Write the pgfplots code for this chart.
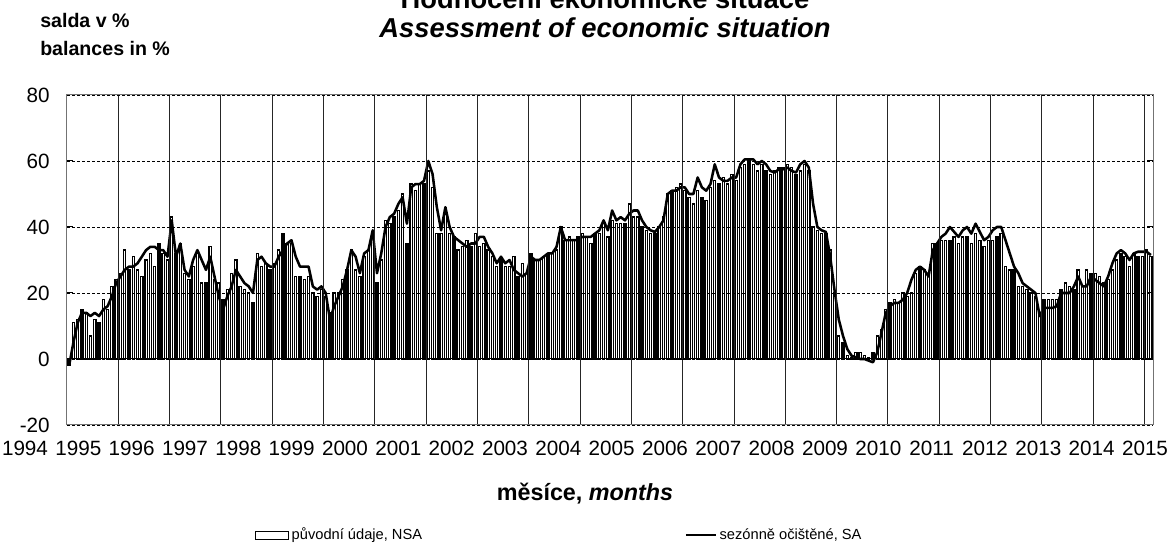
\documentclass[border=0pt]{standalone}
\usepackage{fontspec}
\setmainfont{Liberation Sans}
\usepackage{pgfplots}
\pgfplotsset{compat=1.18}
\usepackage{pgfplotstable}

\newcommand\tickfont{\fontsize{15.5}{18}\selectfont}
\newcommand\titlefont{\fontsize{20.5}{24}\selectfont\bfseries}

\pgfplotstableread{
i nsa sa
0 -2 -2
1 11 5
2 12 11
3 15 14
4 14 14
5 7 13
6 12 14
7 11 13
8 18 15
9 15 16
10 22 19
11 24 23
12 26 25
13 33 27
14 27 28
15 31 28
16 27 29
17 25 31
18 30 33
19 32 34
20 28 34
21 35 33
22 32 33
23 30 31
24 43 42
25 32 31
26 35 35
27 26 27
28 24 25
29 28 30
30 32 33
31 23 30
32 23 27
33 34 31
34 24 25
35 23 19
36 18 15
37 21 19
38 26 22
39 30 27
40 22 25
41 21 23
42 20 22
43 17 20
44 32 30
45 28 31
46 29 29
47 27 28
48 29 28
49 33 31
50 38 33
51 35 35
52 35 36
53 25 31
54 25 28
55 24 28
56 25 28
57 20 22
58 19 21
59 21 22
60 19 20
61 14 12
62 20 16
63 20 19
64 24 22
65 27 27
66 33 33
67 27 31
68 25 26
69 31 32
70 33 33
71 38 39
72 23 26
73 30 32
74 42 40
75 41 43
76 43 44
77 45 47
78 50 49
79 35 41
80 53 52
81 51 53
82 53 53
83 53 54
84 57 60
85 52 56
86 38 46
87 38 39
88 46 46
89 38 40
90 37 37
91 33 36
92 34 35
93 36 34
94 34 35
95 38 35
96 34 37
97 35 37
98 33 34
99 31 32
100 28 29
101 30 31
102 28 29
103 28 30
104 31 27
105 25 26
106 29 25
107 26 26
108 32 31
109 30 30
110 30 30
111 31 31
112 32 32
113 32 32
114 33 34
115 40 40
116 36 36
117 37 36
118 36 36
119 37 36
120 38 37
121 37 37
122 35 37
123 38 38
124 38 39
125 41 42
126 37 39
127 42 45
128 41 42
129 41 43
130 41 42
131 47 44
132 43 45
133 43 45
134 40 42
135 39 40
136 38 39
137 38 38.5
138 40 40
139 43 42
140 50 50
141 51 51
142 52 51
143 53 52
144 51 52
145 49 50
146 47 50
147 51 55
148 49 52
149 48 51
150 52 53
151 54 59
152 53 55
153 55 54
154 53 54
155 56 55
156 54 55
157 58 59
158 59 60.5
159 60 60.5
160 59 60.5
161 57 59
162 59 60
163 57 59
164 56 57
165 57 56.5
166 58 57.5
167 58 57.5
168 59 58
169 58 57
170 56 56.5
171 57 59
172 59 60
173 57 58
174 40 47
175 39 40
176 38 39
177 38 38.5
178 33 31
179 20 21
180 7 12
181 5 7
182 1 3
183 0.5 1
184 2 0.5
185 2 0
186 1 0
187 0.5 -0.5
188 2 -1
189 7 2
190 9 8
191 15 14
192 17 16
193 18 17
194 17 17
195 20 18
196 19 20
197 20 24
198 26 27
199 28 28
200 27 27
201 25 25
202 35 33
203 35 35
204 36 37
205 36 38
206 36 40
207 37 38.5
208 35 37
209 37 39
210 37 40
211 35 38
212 38 41
213 36 38.5
214 34 36
215 36 37
216 36 39
217 37 40
218 38 40
219 28 36
220 27 32
221 27 28
222 22 26
223 22 23
224 21 22
225 20 21
226 19 20
227 14 13
228 18 15.5
229 18 15.5
230 18 15.5
231 18 16
232 21 20
233 23 20
234 22 20
235 21 22
236 27 25
237 22 22
238 27 22
239 26 25
240 26 24
241 25 23
242 23 22
243 24 25
244 27 29
245 30 32
246 32 33
247 31 32
248 28 30
249 32 32
250 31 32.5
251 31 32.5
252 33 32.5
253 31 31.5
}\data

\begin{document}
\begin{tikzpicture}
\begin{axis}[
  at={(0pt,0pt)}, anchor=south west,
  scale only axis, width=814.5pt, height=247.5pt,
  xmin=-0.5, xmax=253.5, ymin=-20, ymax=80,
  ytick={-20,0,20,40,60,80},
  xtick={11.5,23.5,...,251.5}, xticklabels={},
  xmajorgrids, ymajorgrids,
  x grid style={black!85, line width=0.75pt},
  y grid style={black, dash pattern=on 2.25pt off 1.5pt, line width=0.6pt},
  axis on top,
  axis line style={black!55, line width=0.75pt},
  tick align=inside,
  x tick style={draw=none},
  y tick style={black, line width=0.75pt},
  major tick length=4.5pt,
  yticklabel style={font=\tickfont, /pgf/number format/assume math mode=true, anchor=east, inner sep=0pt, xshift=-12.75pt},
  legend columns=2,
  legend cell align=left,
  legend style={at={(axis description cs:0.1731,-0.3333)}, anchor=west, draw=none, fill=none,
    font=\fontsize{11}{13}\selectfont, inner sep=0pt,
    /tikz/every even column/.append style={column sep=195pt}},
]
\addplot[ybar, bar width=0.5, fill=white, draw=black, line width=1pt,
  legend image code/.code={\draw[black, fill=white, line width=0.6pt] (0pt,-3pt) rectangle (24.75pt,3pt);}]
  table[x=i, y=nsa] {\data};
\addlegendentry{původní údaje, NSA}
\addplot[black, line width=0.75pt, forget plot] coordinates {(-0.5,0) (253.5,0)};
\addplot[black, line width=1.9pt, mark=none, line join=round,
  legend image code/.code={\draw[black, line width=1.6pt] (0pt,0pt) -- (22.5pt,0pt);}]
  table[x=i, y=sa] {\data};
\addlegendentry{sezónně očištěné, SA}
\end{axis}
\node[anchor=base, font=\titlefont] at (403.5pt,312pt) {Hodnocení ekonomické situace};
\node[anchor=base, font=\titlefont\itshape] at (403.5pt,290.25pt) {Assessment of economic situation};
\node[anchor=base west, inner sep=0pt, font=\fontsize{14.7}{16}\selectfont\bfseries] at (-20.25pt,297.75pt) {salda v \%};
\node[anchor=base west, inner sep=0pt, font=\fontsize{14.7}{16}\selectfont\bfseries] at (-20.25pt,276.75pt) {balances in \%};
\foreach \i in {0,...,21} {
  \pgfmathtruncatemacro\yr{1994+\i}
  \pgfmathsetmacro\xx{-31.5+40*\i}
  \node[anchor=base, font=\tickfont, inner sep=0pt] at (\xx pt, -23.25pt) {\yr};
}
\node[anchor=base, font=\fontsize{17.5}{20}\selectfont\bfseries] at (388.5pt,-57pt) {měsíce, \textit{months}};
\pgfresetboundingbox
\useasboundingbox (-50.25pt,-93pt) rectangle (827.25pt,318.75pt);
\end{tikzpicture}
\end{document}
